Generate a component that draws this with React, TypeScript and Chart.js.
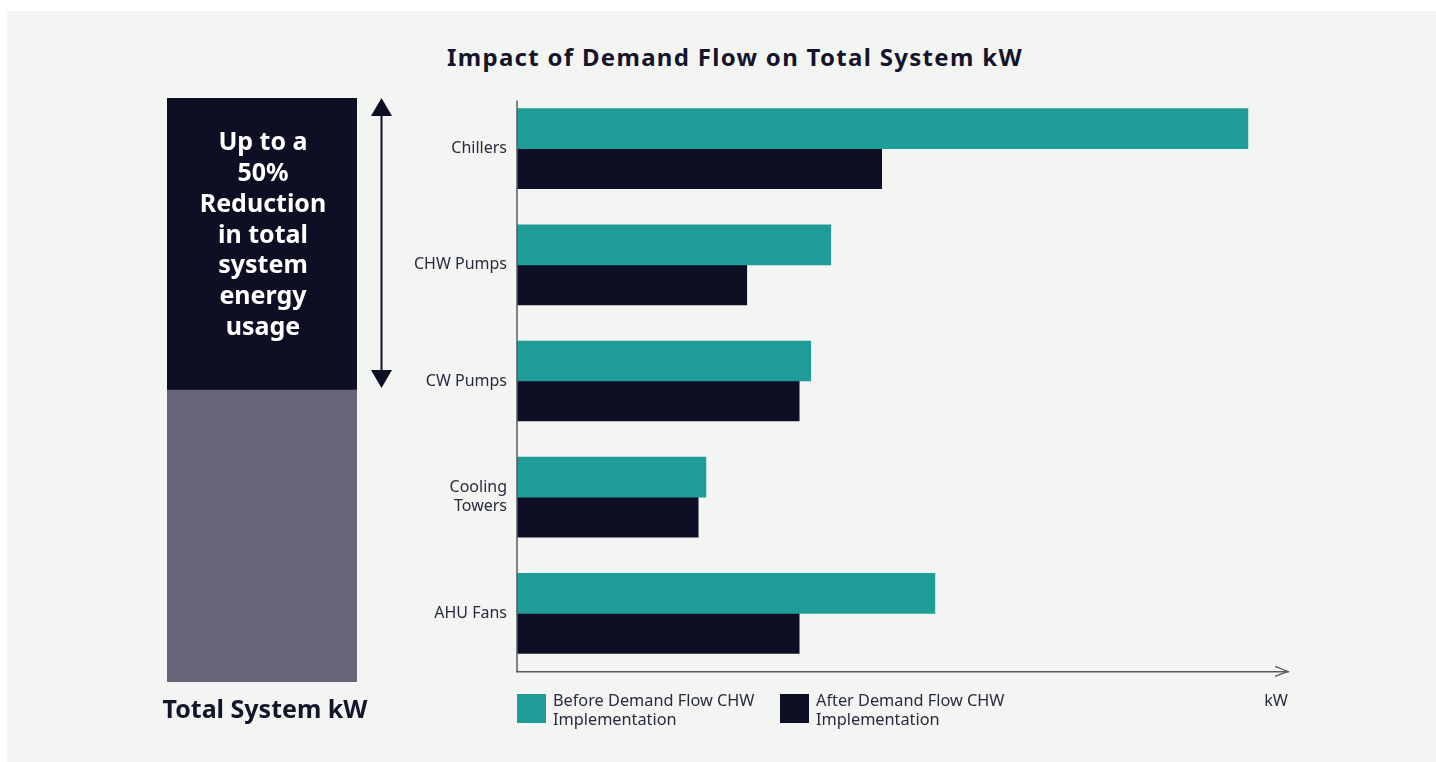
import React, { useEffect, useRef } from 'react';
import { Chart, registerables } from 'chart.js';

Chart.register(...registerables);

// ---------- data ----------
const categories: (string | string[])[] = ['Chillers', 'CHW Pumps', 'CW Pumps', ['Cooling', 'Towers'], 'AHU Fans'];
const beforeValues = [94.8, 40.7, 38.1, 24.5, 54.2];
const afterValues = [47.3, 29.8, 36.6, 23.5, 36.6];
const seriesLabels = [
  ['Before Demand Flow CHW', 'Implementation'],
  ['After Demand Flow CHW', 'Implementation'],
];
const xMax = 100;
const axisUnit = 'kW';

const totalLabels = ['Total System kW'];
const remainingShare = [50];
const reductionShare = [50];
const reductionText = ['Up to a', '50%', 'Reduction', 'in total', 'system', 'energy', 'usage'];

const chartTitle = 'Impact of Demand Flow on Total System kW';

// ---------- styles ----------
const TEAL = '#1f9b98';
const NAVY = '#0e0f24';
const GRAY = '#686579';
const BG = '#f3f5f2';
const TEXT = '#2a2a3f';
const AXIS = '#5a5a5a';
const FONT = '"Noto Sans", sans-serif';

export default function App() {
  const leftRef = useRef<HTMLCanvasElement | null>(null);
  const rightRef = useRef<HTMLCanvasElement | null>(null);

  useEffect(() => {
    const leftPlugin = {
      id: 'leftDecor',
      afterDatasetsDraw(chart: any) {
        const ctx = chart.ctx;
        const meta = chart.getDatasetMeta(1);
        const bar: any = meta.data[0];
        if (!bar) return;
        ctx.save();
        ctx.fillStyle = '#ffffff';
        ctx.font = `bold 25px ${FONT}`;
        ctx.textAlign = 'center';
        ctx.textBaseline = 'middle';
        const startY = bar.y + 45;
        reductionText.forEach((line, i) => {
          ctx.fillText(line, bar.x + 1, startY + i * 30.8);
        });
        // double arrow
        const yScale = chart.scales.y;
        const ax = chart.chartArea.right + 24.5;
        const top = yScale.getPixelForValue(100);
        const bottom = yScale.getPixelForValue(50) - 2;
        ctx.strokeStyle = NAVY;
        ctx.fillStyle = NAVY;
        ctx.lineWidth = 2;
        ctx.beginPath();
        ctx.moveTo(ax, top + 10);
        ctx.lineTo(ax, bottom - 10);
        ctx.stroke();
        ctx.beginPath();
        ctx.moveTo(ax, top);
        ctx.lineTo(ax - 10.5, top + 18);
        ctx.lineTo(ax + 10.5, top + 18);
        ctx.closePath();
        ctx.fill();
        ctx.beginPath();
        ctx.moveTo(ax, bottom);
        ctx.lineTo(ax - 10.5, bottom - 18);
        ctx.lineTo(ax + 10.5, bottom - 18);
        ctx.closePath();
        ctx.fill();
        ctx.restore();
      },
    };

    const left = new Chart(leftRef.current as HTMLCanvasElement, {
      type: 'bar',
      data: {
        labels: totalLabels,
        datasets: [
          { label: 'Remaining', data: remainingShare, backgroundColor: GRAY, barThickness: 190 },
          { label: 'Reduction', data: reductionShare, backgroundColor: NAVY, barThickness: 190 },
        ],
      },
      options: {
        animation: false,
        responsive: false,
        maintainAspectRatio: false,
        layout: { padding: { left: 27, right: 53, top: 13, bottom: 13 } },
        plugins: { legend: { display: false }, tooltip: { enabled: false }, title: { display: false } },
        scales: {
          x: { display: false, stacked: true },
          y: { display: false, stacked: true, min: 0, max: 100 },
        },
      },
      plugins: [leftPlugin],
    } as any);

    const axisPlugin = {
      id: 'axisDecor',
      afterDraw(chart: any) {
        const ctx = chart.ctx;
        const { left: l, right: r, top: t, bottom: b } = chart.chartArea;
        ctx.save();
        ctx.strokeStyle = AXIS;
        ctx.lineWidth = 1.5;
        // y axis line
        ctx.beginPath();
        ctx.moveTo(l, t + 10);
        ctx.lineTo(l, b);
        ctx.stroke();
        // arrow head on x axis
        ctx.lineWidth = 1.2;
        ctx.beginPath();
        ctx.moveTo(r - 13, b - 5);
        ctx.lineTo(r, b);
        ctx.lineTo(r - 13, b + 5);
        ctx.stroke();
        ctx.restore();
      },
    };

    const right = new Chart(rightRef.current as HTMLCanvasElement, {
      type: 'bar',
      data: {
        labels: categories,
        datasets: [
          { label: seriesLabels[0].join(' '), data: beforeValues, backgroundColor: TEAL, barThickness: 40 },
          { label: seriesLabels[1].join(' '), data: afterValues, backgroundColor: NAVY, barThickness: 40 },
        ],
      },
      options: {
        indexAxis: 'y',
        animation: false,
        responsive: false,
        maintainAspectRatio: false,
        layout: { padding: { top: 5, right: 22, bottom: 14, left: 0 } },
        plugins: { legend: { display: false }, tooltip: { enabled: false }, title: { display: false } },
        scales: {
          x: {
            min: 0,
            max: xMax,
            ticks: { display: false },
            grid: { display: false, drawTicks: false },
            border: { display: true, color: AXIS, width: 1.5 },
          },
          y: {
            ticks: { color: TEXT, font: { family: FONT, size: 16 }, padding: 10 },
            grid: { display: false, drawTicks: false },
            border: { display: false },
            afterFit: (s: any) => {
              s.width = 117;
            },
          },
        },
      },
      plugins: [axisPlugin],
    } as any);

    return () => {
      left.destroy();
      right.destroy();
    };
  }, []);

  const legendColors = [TEAL, NAVY];
  const legendLeft = [517, 780];

  return (
    <div
      style={{
        position: 'absolute',
        left: 0,
        top: 0,
        width: 1436,
        height: 762,
        background: '#ffffff',
        overflow: 'hidden',
        fontFamily: FONT,
      }}
    >
      <div style={{ position: 'absolute', left: 7, top: 11, width: 1429, height: 751, background: BG }} />
      <div
        style={{
          position: 'absolute',
          left: 385,
          top: 41,
          width: 700,
          textAlign: 'center',
          fontSize: 24,
          lineHeight: '32px',
          fontWeight: 700,
          letterSpacing: '1.3px',
          color: '#14142b',
        }}
      >
        {chartTitle}
      </div>
      <canvas
        ref={leftRef}
        width={270}
        height={610}
        style={{ position: 'absolute', left: 140, top: 85, width: 270, height: 610 }}
      />
      <canvas
        ref={rightRef}
        width={910}
        height={620}
        style={{ position: 'absolute', left: 400, top: 71, width: 910, height: 620 }}
      />
      <div
        style={{
          position: 'absolute',
          left: 115,
          top: 691,
          width: 300,
          textAlign: 'center',
          fontSize: 25,
          lineHeight: '34px',
          fontWeight: 700,
          color: '#14142b',
        }}
      >
        {totalLabels[0]}
      </div>
      {seriesLabels.map((lines, i) => (
        <React.Fragment key={i}>
          <div
            style={{
              position: 'absolute',
              left: legendLeft[i],
              top: 694,
              width: 29,
              height: 29,
              background: legendColors[i],
            }}
          />
          <div
            style={{
              position: 'absolute',
              left: legendLeft[i] + 36,
              top: 691,
              fontSize: 16.3,
              lineHeight: '19px',
              color: TEXT,
              whiteSpace: 'nowrap',
            }}
          >
            {lines.map((ln, j) => (
              <div key={j}>{ln}</div>
            ))}
          </div>
        </React.Fragment>
      ))}
      <div
        style={{
          position: 'absolute',
          left: 1228,
          top: 691,
          width: 60,
          textAlign: 'right',
          fontSize: 16.3,
          lineHeight: '19px',
          color: TEXT,
        }}
      >
        {axisUnit}
      </div>
    </div>
  );
}
